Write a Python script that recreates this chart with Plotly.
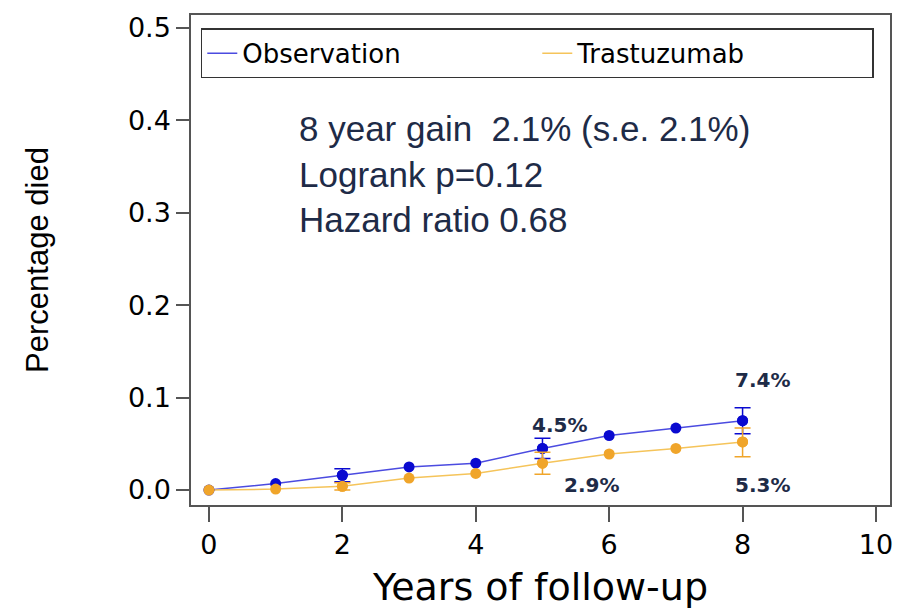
import plotly.graph_objects as go

years = [0, 1, 2, 3, 4, 5, 6, 7, 8]
obs = [0.0, 0.007, 0.016, 0.025, 0.029, 0.045, 0.059, 0.067, 0.075]
tra = [0.0, 0.001, 0.004, 0.013, 0.018, 0.029, 0.039, 0.045, 0.052]

err_years = [2, 5, 8]
obs_err_y = [0.016, 0.045, 0.075]
obs_err_up = [0.007, 0.011, 0.014]
obs_err_dn = [0.007, 0.011, 0.014]
tra_err_y = [0.004, 0.029, 0.052]
tra_err_up = [0.004, 0.012, 0.015]
tra_err_dn = [0.004, 0.012, 0.016]

label_x = [5.25, 5.73, 8.3, 8.3]
label_y = [0.070, 0.0054, 0.119, 0.0054]
label_txt = ["4.5%", "2.9%", "7.4%", "5.3%"]

stats_lines = ["8 year gain  2.1% (s.e. 2.1%)", "Logrank p=0.12", "Hazard ratio 0.68"]

BLUE_LINE = "#4b4be0"
BLUE_MK = "#0a0ad0"
ORANGE_LINE = "#f5c45a"
ORANGE_MK = "#f0a52a"
TXT = "#1e2b47"

fig = go.Figure()
fig.add_trace(go.Scatter(x=years, y=obs, mode="lines", name="Observation",
                         line=dict(color=BLUE_LINE, width=1.5)))
fig.add_trace(go.Scatter(x=years, y=tra, mode="lines", name="Trastuzumab",
                         line=dict(color=ORANGE_LINE, width=1.5)))
fig.add_trace(go.Scatter(x=years, y=obs, mode="markers", showlegend=False,
                         marker=dict(color=BLUE_MK, size=11)))
fig.add_trace(go.Scatter(x=years, y=tra, mode="markers", showlegend=False,
                         marker=dict(color=ORANGE_MK, size=11)))
fig.add_trace(go.Scatter(x=err_years, y=obs_err_y, mode="markers", showlegend=False,
                         marker=dict(color=BLUE_MK, size=11),
                         error_y=dict(type="data", symmetric=False, array=obs_err_up,
                                      arrayminus=obs_err_dn, color=BLUE_MK, thickness=1.5, width=8)))
fig.add_trace(go.Scatter(x=err_years, y=tra_err_y, mode="markers", showlegend=False,
                         marker=dict(color=ORANGE_MK, size=11),
                         error_y=dict(type="data", symmetric=False, array=tra_err_up,
                                      arrayminus=tra_err_dn, color=ORANGE_MK, thickness=1.5, width=8)))

for x, y, t in zip(label_x, label_y, label_txt):
    fig.add_annotation(x=x, y=y, text=t, showarrow=False, xanchor="center", yanchor="middle",
                       font=dict(family="DejaVu Sans", size=20, color=TXT, weight="bold"))

fig.add_annotation(xref="paper", yref="paper", x=0.152, y=0.812, xanchor="left", yanchor="top",
                   text="<br>".join(stats_lines), align="left", showarrow=False,
                   font=dict(family="Liberation Sans", size=35, color=TXT))

fig.update_layout(
    width=902, height=613,
    margin=dict(l=191, r=9, t=15, b=108),
    paper_bgcolor="white", plot_bgcolor="white",
    showlegend=True,
    legend=dict(orientation="h", x=0.014, y=0.973, xanchor="left", yanchor="top",
                bordercolor="#333", borderwidth=1.5, bgcolor="white",
                entrywidth=290, entrywidthmode="pixels", tracegroupgap=0,
                font=dict(family="DejaVu Sans", size=26, color="black")),
    xaxis=dict(range=[-0.269, 10.21], tickvals=[0, 2, 4, 6, 8, 10], showgrid=False, zeroline=False,
               showline=True, linecolor="#555", linewidth=1.5, mirror=True,
               ticks="outside", ticklen=15, tickcolor="#555", tickwidth=1.5,
               tickfont=dict(family="DejaVu Sans", size=27, color="black"),
               title=dict(text="Years of follow-up", standoff=14,
                          font=dict(family="DejaVu Sans", size=38, color="black"))),
    yaxis=dict(range=[-0.0162, 0.5141], tickvals=[0, 0.1, 0.2, 0.3, 0.4, 0.5], tickformat=".1f",
               showgrid=False, zeroline=False,
               showline=True, linecolor="#555", linewidth=1.5, mirror=True,
               ticks="outside", ticklen=13, tickcolor="#555", tickwidth=1.5,
               tickfont=dict(family="DejaVu Sans", size=27, color="black"),
               title=dict(text="Percentage died", standoff=70,
                          font=dict(family="Liberation Sans", size=31, color="black"))),
)

fig.write_html("out.html")
